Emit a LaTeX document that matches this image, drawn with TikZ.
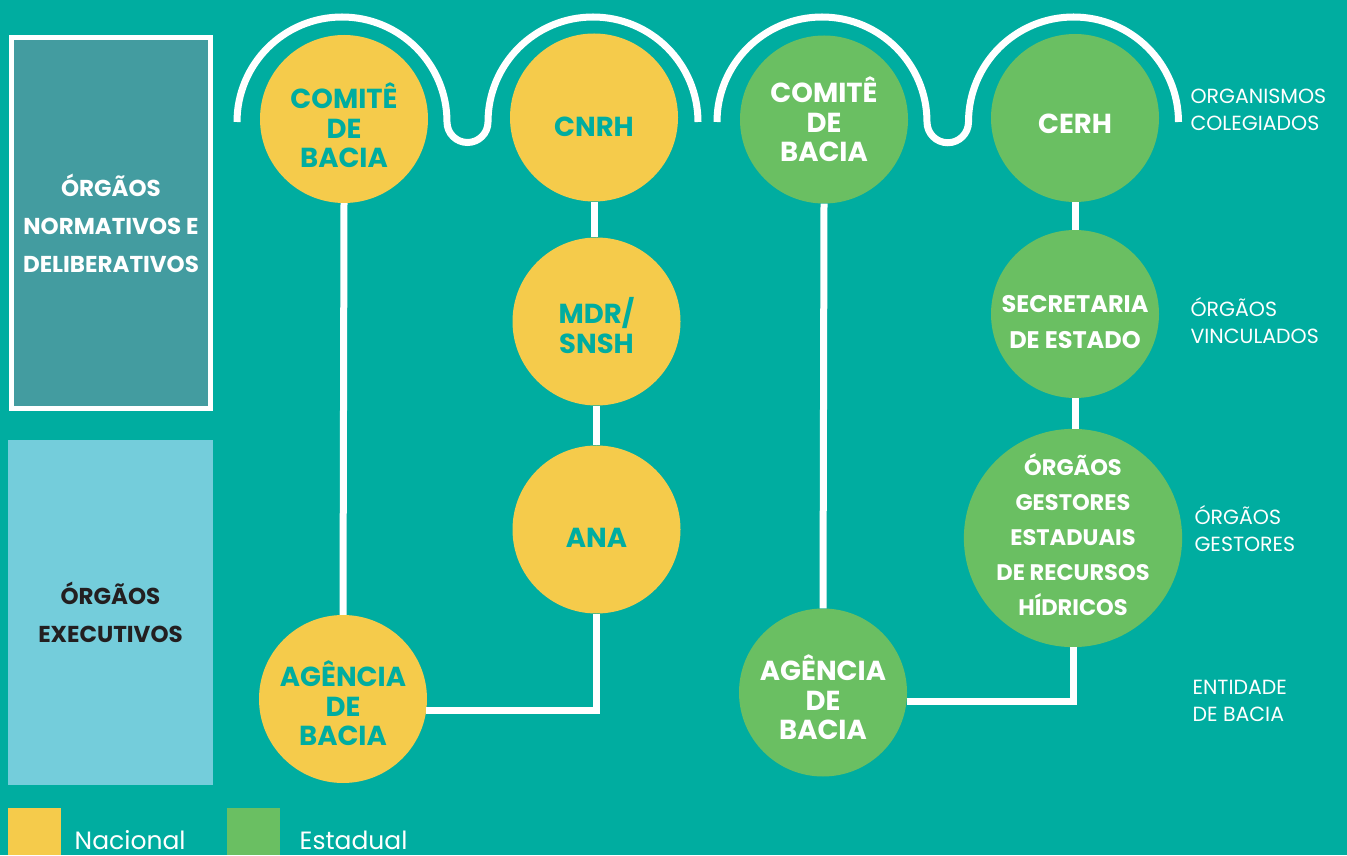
\documentclass[tikz,border=0pt]{standalone}
\usepackage{fontspec}
\setmainfont{Poppins}
\usepackage{xcolor}
\usepackage{tikz}
\usetikzlibrary{positioning,calc}

\definecolor{fundo}{RGB}{0,173,160}
\definecolor{caixanorm}{RGB}{67,156,160}
\definecolor{caixaexec}{RGB}{116,205,219}
\definecolor{amarelo}{RGB}{245,203,75}
\definecolor{verde}{RGB}{106,191,98}
\definecolor{escuro}{RGB}{35,31,32}

% lowers the text of a circle by half of #1
\newcommand{\desce}[2]{\rule{0pt}{\dimexpr\fontcharht\font`H+#1\relax}\smash{#2}}

\begin{document}
\begin{tikzpicture}[x=1pt,y=1pt,
    circ/.style={circle, minimum size=168pt, inner sep=0pt, align=center,
        font=\fontsize{27.5}{29.5}\selectfont\bfseries},
    nac/.style={circ, fill=amarelo, text=fundo},
    est/.style={circ, fill=verde, text=white},
    lig/.style={white, line width=7pt},
    rot/.style={anchor=west, align=left, text=white,
        font=\fontsize{20.5}{27}\selectfont}]

    % Background
    \fill[fundo] (0,0) rectangle (1347,855);

    % Left boxes
    \node[draw=white, line width=5pt, fill=caixanorm, minimum width=199pt,
        minimum height=371pt, text=white, align=center,
        font=\fontsize{23}{38}\selectfont\bfseries] (normativos) at (111,632)
        {ÓRGÃOS\\NORMATIVOS E\\DELIBERATIVOS};
    \node[fill=caixaexec, minimum width=205pt, minimum height=345pt,
        text=escuro, align=center,
        font=\fontsize{23}{38}\selectfont\bfseries] (executivos) at (110.5,242.5)
        {ÓRGÃOS\\EXECUTIVOS};

    % Arcs
    \draw[lig] (237,733) arc (180:0:105) arc (180:360:20.5) arc (180:0:105);
    \draw[lig] (717,733) arc (180:0:105) arc (180:360:20.75) arc (180:0:105);

    % Nacional
    \node[nac] (cbn) at (344,736) {\desce{19pt}{COMITÊ}\\DE\\BACIA};
    \node[nac] (cnrh) at (594,737.5) {\desce{19pt}{CNRH}};
    \node[nac] (mdr) at (596.5,533.5) {\desce{15pt}{MDR/}\\SNSH};
    \node[nac] (ana) at (596.5,325.5) {\desce{16pt}{ANA}};
    \node[nac] (abn) at (343,156) {\desce{15pt}{AGÊNCIA}\\DE\\BACIA};

    % Estadual
    \node[est] (cbe) at (824,735.5) {\desce{6pt}{COMITÊ}\\DE\\BACIA};
    \node[est] (cerh) at (1075,737) {\desce{11pt}{CERH}};
    \node[est, font=\fontsize{24}{36}\selectfont\bfseries] (sec) at (1075,541)
        {\desce{16pt}{SECRETARIA}\\DE ESTADO};
    \node[est, minimum size=207pt, font=\fontsize{22.5}{35}\selectfont\bfseries]
        (oge) at (1073,317) {\desce{0pt}{ÓRGÃOS}\\GESTORES\\ESTADUAIS\\DE RECURSOS\\HÍDRICOS};
    \node[est] (abe) at (823,162.5) {\desce{16pt}{AGÊNCIA}\\DE\\BACIA};

    % Links
    \draw[lig] (cbn.south) -- (abn.north);
    \draw[lig] (cnrh.south) -- (cnrh.south |- mdr.north);
    \draw[lig] (mdr.south) -- (ana.north);
    \draw[lig] (ana.south) |- (abn.-8);
    \draw[lig] (cbe.south) -- (abe.north);
    \draw[lig] (cerh.south) -- (sec.north);
    \draw[lig] (sec.south) -- (sec.south |- oge.north);
    \draw[lig] (oge.south) |- (abe.-6);

    % Right labels
    \node[rot] (colegiados) at (1187,745.5) {ORGANISMOS\\COLEGIADOS};
    \node[rot] (vinculados) at (1187,534) {ÓRGÃOS\\VINCULADOS};
    \node[rot] (gestores) at (1191,326.5) {ÓRGÃOS\\GESTORES};
    \node[rot] (entidade) at (1189,154.5) {ENTIDADE\\DE BACIA};

    % Legend
    \node[fill=amarelo, minimum width=53pt, minimum height=47pt, inner sep=0pt,
        anchor=south west] (legnac) at (8,0) {};
    \node[anchor=west, inner sep=0pt, text=white,
        font=\fontsize{25}{28}\selectfont] (nacional) at (74.5,15) {Nacional};
    \node[fill=verde, minimum width=53pt, minimum height=47pt, inner sep=0pt,
        anchor=south west] (legest) at (227,0) {};
    \node[anchor=west, inner sep=0pt, text=white,
        font=\fontsize{25}{28}\selectfont] (estadual) at (299.5,15) {Estadual};
\end{tikzpicture}
\end{document}
